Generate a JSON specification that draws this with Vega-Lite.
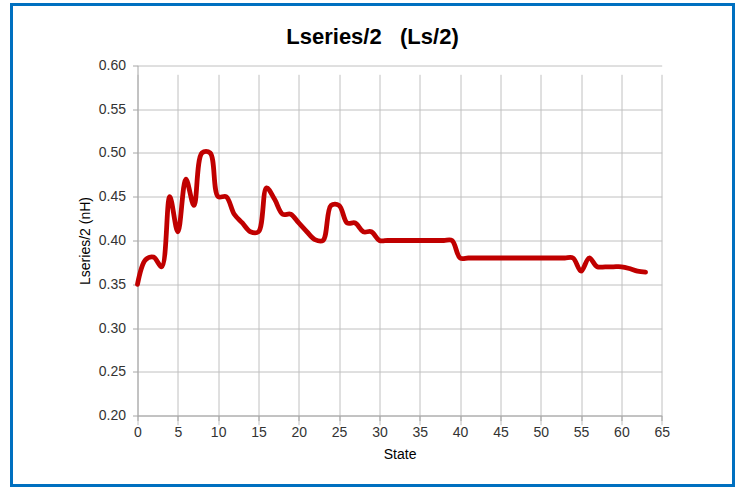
{
  "$schema": "https://vega.github.io/schema/vega-lite/v6.json",
  "autosize": {"type": "none"},
  "padding": {"left": 11.5, "top": 4.5, "right": 6.5, "bottom": 1.5},
  "width": 722,
  "height": 481,
  "background": "white",
  "title": {
    "text": "Lseries/2\u00a0\u00a0\u00a0(Ls/2)",
    "orient": "top",
    "frame": "group",
    "anchor": "middle",
    "baseline": "alphabetic",
    "offset": -61,
    "font": "Liberation Sans",
    "fontSize": 22,
    "fontWeight": "bold",
    "color": "#000000"
  },
  "data": {
    "values": [
      {"State": 0, "Ls": 0.350},
      {"State": 1, "Ls": 0.378},
      {"State": 2, "Ls": 0.381},
      {"State": 3, "Ls": 0.370},
      {"State": 4, "Ls": 0.450},
      {"State": 5, "Ls": 0.410},
      {"State": 6, "Ls": 0.470},
      {"State": 7, "Ls": 0.440},
      {"State": 8, "Ls": 0.500},
      {"State": 9, "Ls": 0.500},
      {"State": 10, "Ls": 0.450},
      {"State": 11, "Ls": 0.450},
      {"State": 12, "Ls": 0.430},
      {"State": 13, "Ls": 0.420},
      {"State": 14, "Ls": 0.410},
      {"State": 15, "Ls": 0.410},
      {"State": 16, "Ls": 0.460},
      {"State": 17, "Ls": 0.447},
      {"State": 18, "Ls": 0.430},
      {"State": 19, "Ls": 0.430},
      {"State": 20, "Ls": 0.420},
      {"State": 21, "Ls": 0.410},
      {"State": 22, "Ls": 0.401},
      {"State": 23, "Ls": 0.400},
      {"State": 24, "Ls": 0.440},
      {"State": 25, "Ls": 0.440},
      {"State": 26, "Ls": 0.420},
      {"State": 27, "Ls": 0.420},
      {"State": 28, "Ls": 0.410},
      {"State": 29, "Ls": 0.410},
      {"State": 30, "Ls": 0.400},
      {"State": 31, "Ls": 0.400},
      {"State": 32, "Ls": 0.400},
      {"State": 33, "Ls": 0.400},
      {"State": 34, "Ls": 0.400},
      {"State": 35, "Ls": 0.400},
      {"State": 36, "Ls": 0.400},
      {"State": 37, "Ls": 0.400},
      {"State": 38, "Ls": 0.400},
      {"State": 39, "Ls": 0.400},
      {"State": 40, "Ls": 0.380},
      {"State": 41, "Ls": 0.380},
      {"State": 42, "Ls": 0.380},
      {"State": 43, "Ls": 0.380},
      {"State": 44, "Ls": 0.380},
      {"State": 45, "Ls": 0.380},
      {"State": 46, "Ls": 0.380},
      {"State": 47, "Ls": 0.380},
      {"State": 48, "Ls": 0.380},
      {"State": 49, "Ls": 0.380},
      {"State": 50, "Ls": 0.380},
      {"State": 51, "Ls": 0.380},
      {"State": 52, "Ls": 0.380},
      {"State": 53, "Ls": 0.380},
      {"State": 54, "Ls": 0.380},
      {"State": 55, "Ls": 0.365},
      {"State": 56, "Ls": 0.380},
      {"State": 57, "Ls": 0.370},
      {"State": 58, "Ls": 0.370},
      {"State": 59, "Ls": 0.370},
      {"State": 60, "Ls": 0.370},
      {"State": 61, "Ls": 0.368},
      {"State": 62, "Ls": 0.365},
      {"State": 63, "Ls": 0.364}
    ]
  },
  "mark": {
    "type": "line",
    "interpolate": "catmull-rom",
    "color": "#C00000",
    "strokeWidth": 4.8,
    "strokeCap": "round",
    "strokeJoin": "round"
  },
  "encoding": {
    "x": {
      "field": "State",
      "type": "quantitative",
      "scale": {"domain": [0, 65], "range": [126, 650.2], "nice": false, "zero": false},
      "axis": {
        "title": "State",
        "values": [0, 5, 10, 15, 20, 25, 30, 35, 40, 45, 50, 55, 60, 65],
        "offset": -70,
        "labelPadding": 5,
        "titlePadding": 8,
        "labelFlush": false
      }
    },
    "y": {
      "field": "Ls",
      "type": "quantitative",
      "scale": {"domain": [0.2, 0.6], "range": [411.2, 60.8], "nice": false, "zero": false},
      "axis": {
        "title": "Lseries/2 (nH)",
        "values": [0.2, 0.25, 0.3, 0.35, 0.4, 0.45, 0.5, 0.55, 0.6],
        "format": ".2f",
        "offset": -126,
        "labelPadding": 7,
        "titlePadding": 6,
        "labelFlush": false
      }
    }
  },
  "config": {
    "view": {"stroke": "#0070C0", "strokeWidth": 3, "fill": "white"},
    "axis": {
      "labelFont": "Liberation Sans",
      "labelFontSize": 14,
      "labelColor": "#333333",
      "titleFont": "Liberation Sans",
      "titleFontSize": 14,
      "titleFontWeight": "normal",
      "titleColor": "#000000",
      "grid": true,
      "gridColor": "#c0c0c0",
      "gridWidth": 1,
      "domainColor": "#a6a6a6",
      "domainWidth": 1,
      "tickColor": "#a6a6a6",
      "tickSize": 5,
      "ticks": true
    }
  }
}
